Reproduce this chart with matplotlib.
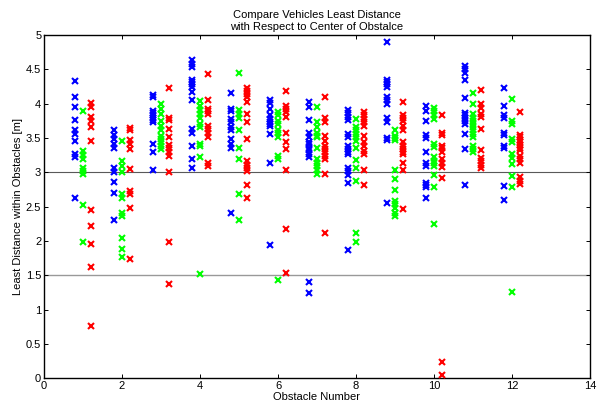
import numpy as np
import matplotlib
matplotlib.use('Agg')
import matplotlib.pyplot as plt

plt.rcParams['font.family'] = ['Liberation Sans', 'DejaVu Sans']

# least distance per obstacle, one list per vehicle (blue / green / red)
obstacles = list(range(1, 13))

vehicle_blue = [
    [4.33, 4.10, 3.95, 3.76, 3.62, 3.56, 3.46, 3.26, 3.23, 2.63],
    [3.61, 3.55, 3.48, 3.41, 3.35, 3.06, 3.00, 2.86, 2.70, 2.30],
    [4.12, 4.10, 3.90, 3.86, 3.83, 3.79, 3.76, 3.73, 3.41, 3.29, 3.04],
    [4.64, 4.58, 4.54, 4.35, 4.32, 4.29, 4.25, 4.17, 4.05, 3.63, 3.58, 3.39, 3.19, 3.06],
    [4.15, 3.92, 3.89, 3.78, 3.73, 3.66, 3.62, 3.49, 3.41, 3.36, 2.41],
    [4.06, 4.01, 3.92, 3.83, 3.78, 3.74, 3.70, 3.67, 3.56, 3.14, 1.94],
    [4.02, 3.95, 3.76, 3.58, 3.51, 3.44, 3.41, 3.36, 3.32, 3.27, 3.23, 1.40, 1.24],
    [3.91, 3.86, 3.81, 3.76, 3.56, 3.52, 3.39, 3.34, 3.29, 3.26, 3.07, 3.02, 2.96, 2.85, 1.87],
    [4.90, 4.35, 4.32, 4.28, 4.25, 4.10, 4.05, 3.99, 3.79, 3.74, 3.50, 3.47, 2.56],
    [3.96, 3.90, 3.75, 3.55, 3.50, 3.30, 3.13, 3.09, 2.85, 2.82, 2.79, 2.63],
    [4.55, 4.50, 4.45, 4.34, 4.09, 3.86, 3.83, 3.79, 3.75, 3.71, 3.56, 3.34, 2.82],
    [4.23, 3.96, 3.83, 3.79, 3.58, 3.55, 3.39, 3.36, 2.80, 2.59],
]

vehicle_green = [
    [3.89, 3.31, 3.25, 3.19, 3.07, 3.02, 2.97, 2.52, 1.98],
    [3.46, 3.17, 3.09, 3.00, 2.69, 2.63, 2.41, 2.37, 2.05, 1.89, 1.76],
    [3.99, 3.92, 3.85, 3.75, 3.68, 3.61, 3.53, 3.48, 3.44, 3.39, 3.34],
    [4.04, 3.97, 3.91, 3.85, 3.79, 3.70, 3.66, 3.42, 3.39, 3.22, 1.52],
    [4.45, 3.91, 3.85, 3.79, 3.62, 3.35, 3.19, 2.68, 2.30],
    [3.88, 3.83, 3.75, 3.71, 3.61, 3.57, 3.52, 3.24, 3.19, 1.43],
    [3.95, 3.73, 3.66, 3.58, 3.53, 3.51, 3.36, 3.19, 3.14, 3.09, 3.04, 2.97],
    [3.78, 3.66, 3.61, 3.56, 3.51, 3.46, 3.36, 3.18, 3.06, 2.88, 2.12, 1.98],
    [3.62, 3.53, 3.50, 3.47, 3.04, 2.90, 2.74, 2.58, 2.54, 2.48, 2.41, 2.36],
    [3.94, 3.89, 3.83, 3.78, 3.41, 3.37, 3.22, 3.17, 3.13, 3.09, 2.96, 2.79, 2.24],
    [4.15, 3.99, 3.85, 3.79, 3.75, 3.71, 3.66, 3.61, 3.56, 3.51, 3.39, 3.34, 3.30],
    [4.07, 3.75, 3.71, 3.48, 3.44, 3.26, 3.21, 3.12, 2.95, 2.79, 1.25],
]

vehicle_red = [
    [4.01, 3.95, 3.81, 3.75, 3.66, 3.46, 2.45, 2.22, 1.95, 1.62, 0.76],
    [3.65, 3.61, 3.47, 3.42, 3.34, 3.05, 2.73, 2.69, 2.48, 1.74],
    [4.23, 3.79, 3.76, 3.63, 3.52, 3.40, 3.36, 3.30, 3.24, 3.00, 1.98, 1.38],
    [4.44, 4.05, 3.92, 3.89, 3.85, 3.68, 3.63, 3.58, 3.52, 3.14, 3.09],
    [4.23, 4.19, 4.14, 4.10, 4.02, 3.85, 3.73, 3.49, 3.17, 3.11, 3.06, 3.02, 2.82, 2.63],
    [4.18, 3.96, 3.92, 3.88, 3.81, 3.58, 3.44, 3.34, 3.03, 2.17, 1.54],
    [4.10, 3.79, 3.74, 3.53, 3.46, 3.39, 3.34, 3.29, 3.24, 3.19, 2.97, 2.12],
    [3.88, 3.83, 3.78, 3.73, 3.68, 3.53, 3.44, 3.39, 3.31, 3.27, 3.04, 2.82],
    [4.02, 3.83, 3.79, 3.75, 3.68, 3.62, 3.44, 3.39, 3.34, 3.30, 3.27, 3.13, 3.04, 2.47],
    [3.83, 3.58, 3.55, 3.39, 3.35, 3.29, 3.19, 3.14, 3.08, 2.92, 0.24, 0.05],
    [4.20, 3.99, 3.94, 3.85, 3.80, 3.63, 3.32, 3.21, 3.16, 3.11, 3.06],
    [3.88, 3.55, 3.51, 3.47, 3.44, 3.40, 3.36, 3.32, 3.24, 3.19, 3.14, 2.93, 2.88, 2.83],
]

fig = plt.figure(figsize=(5.98, 4.08), dpi=100)
ax = fig.add_axes([0.0736, 0.073, 0.913, 0.841])

# reference limits
ax.axhline(3, color='0.35', lw=0.8, zorder=1)
ax.axhline(1.5, color='0.6', lw=1.0, zorder=1)

for series, col, off in [(vehicle_blue, 'b', -0.2), (vehicle_green, (0, 1, 0), 0.0), (vehicle_red, 'r', 0.2)]:
    for obs, vals in zip(obstacles, series):
        ax.plot([obs + off] * len(vals), vals, 'x', color=col, ms=5, mew=1.5, zorder=3)

ax.set_xlim(0, 14)
ax.set_ylim(0, 5)
ax.set_xticks(np.arange(0, 15, 2))
ax.set_yticks(np.arange(0, 5.01, 0.5))
ax.set_yticklabels(['0', '0.5', '1', '1.5', '2', '2.5', '3', '3.5', '4', '4.5', '5'])
ax.tick_params(direction='in', top=True, right=True, labelsize=8, length=3, width=0.7, pad=2)
for s in ax.spines.values():
    s.set_linewidth(1.0)

ax.set_xlabel('Obstacle Number', fontsize=8, labelpad=1)
ax.set_ylabel('Least Distance within Obstacles [m]', fontsize=8, labelpad=2)
ax.set_title('Compare Vehicles Least Distance\nwith Respect to Center of Obstalce', fontsize=8, pad=4, linespacing=1.2)

fig.savefig('out.png', dpi=100)
